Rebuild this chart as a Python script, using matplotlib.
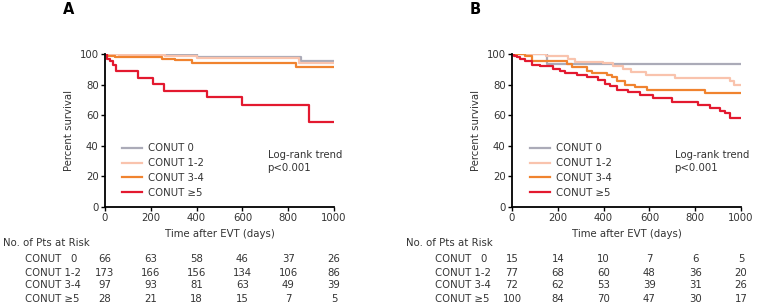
import matplotlib
matplotlib.use("Agg")
import matplotlib.pyplot as plt
from matplotlib.transforms import blended_transform_factory

# groups and colours
groups = ["CONUT 0", "CONUT 1-2", "CONUT 3-4", "CONUT \u22655"]
row_labels = ["CONUT   0", "CONUT 1-2", "CONUT 3-4", "CONUT \u22655"]
colors = ["#ababb8", "#f9c3ad", "#f0832f", "#e3192f"]
risk_times = [0, 200, 400, 600, 800, 1000]

# panel A: Kaplan-Meier steps (time in days, percent survival)
a_t0 = [0, 403, 855]
a_s0 = [100, 97.8, 95.5]
a_t1 = [0, 60, 260, 400, 846]
a_s1 = [100, 99.4, 98.8, 97.2, 94.0]
a_t2 = [0, 10, 44, 250, 307, 380, 833]
a_s2 = [100, 99, 98, 97, 96.2, 94.1, 91.5]
a_t3 = [0, 10, 22, 35, 48, 145, 211, 258, 445, 598, 890]
a_s3 = [100, 97, 95.6, 93, 89, 84.3, 80.3, 76, 71.6, 66.6, 55.3]

# panel B
b_t0 = [0, 155]
b_s0 = [100, 93.3]
b_t1 = [0, 150, 245, 275, 397, 440, 484, 520, 586, 712, 950, 970]
b_s1 = [100, 98.6, 96.5, 95, 94, 92, 90, 88.4, 86.2, 84, 82.3, 80]
b_t2 = [0, 57, 86, 239, 261, 326, 348, 413, 435, 457, 493, 537, 588, 843]
b_s2 = [100, 98.7, 95.2, 93.4, 91.3, 89, 87.8, 86.5, 85, 82.5, 79.7, 78.2, 76.4, 74.2]
b_t3 = [0, 8, 20, 35, 57, 86, 122, 180, 210, 231, 283, 326, 377, 406, 428,
        457, 508, 559, 616, 697, 814, 865, 908, 930, 950]
b_s3 = [100, 99, 98, 96.9, 95.2, 93, 92, 90.4, 89, 87.5, 86.5, 84.7, 82.8, 80.4, 78.8,
        76.6, 75.3, 73.2, 71, 68.8, 66.6, 64.4, 62.9, 61.2, 58.2]

# numbers at risk
a_risk = [[66, 63, 58, 46, 37, 26],
          [173, 166, 156, 134, 106, 86],
          [97, 93, 81, 63, 49, 39],
          [28, 21, 18, 15, 7, 5]]
b_risk = [[15, 14, 10, 7, 6, 5],
          [77, 68, 60, 48, 36, 20],
          [72, 62, 53, 39, 31, 26],
          [100, 84, 70, 47, 30, 17]]

plt.rcParams['font.family'] = ['DejaVu Sans']
FS = 7.3
TXT = '#333333'

W, H = 766, 307
fig = plt.figure(figsize=(W / 100, H / 100), dpi=100)


def panel(left_px, letter, curves, risk, legend_x_px, table_x_px, row_x_px):
    ax = fig.add_axes([left_px / W, 1 - 207 / H, 229 / W, 153 / H])
    lines = []
    for (t, s), c, g in zip(curves, colors, groups):
        t = list(t) + [1000]
        s = list(s) + [s[-1]]
        ln, = ax.step(t, s, where='post', color=c, lw=1.6, label=g)
        lines.append(ln)
    ax.set_xlim(0, 1000)
    ax.set_ylim(0, 100)
    ax.set_xticks(risk_times)
    ax.set_yticks([0, 20, 40, 60, 80, 100])
    for sp in ['top', 'right']:
        ax.spines[sp].set_visible(False)
    for sp in ['left', 'bottom']:
        ax.spines[sp].set_linewidth(1.3)
    ax.tick_params(direction='out', length=3, width=1, labelsize=FS, pad=1.5,
                   labelcolor=TXT)
    ax.set_ylabel("Percent survival", fontsize=FS, labelpad=4, color=TXT)
    ax.set_xlabel("Time after EVT (days)", fontsize=FS, labelpad=4, color=TXT)
    ax.legend(handles=lines, loc='lower left',
              bbox_to_anchor=((legend_x_px - left_px) / 229, 0.06),
              frameon=False, fontsize=FS, handlelength=2.0, handletextpad=0.6,
              labelspacing=0.48, borderpad=0, borderaxespad=0, labelcolor=TXT)
    ax.text(0.71, 0.295, "Log-rank trend\np<0.001", transform=ax.transAxes,
            fontsize=FS, va='center', ha='left', linespacing=1.35, color=TXT)

    fig.text((left_px - 42) / W, 1 - 10 / H, letter, fontsize=10.5,
             fontweight='bold', ha='left', va='center')

    # numbers-at-risk table under the axis, columns aligned with x ticks
    fig.text(table_x_px / W, 1 - 243 / H, "No. of Pts at Risk", fontsize=FS,
             ha='left', va='center', color=TXT)
    tr = blended_transform_factory(ax.transData, fig.transFigure)
    row_y = [259.3, 272.7, 285.3, 298.7]
    for lab, vals, y in zip(row_labels, risk, row_y):
        fig.text(row_x_px / W, 1 - y / H, lab, fontsize=FS,
                 ha='left', va='center', color=TXT)
        for t, v in zip(risk_times, vals):
            ax.text(t, 1 - y / H, str(v), transform=tr, fontsize=FS,
                    ha='center', va='center', color=TXT)
    return ax


panel(105, "A", [(a_t0, a_s0), (a_t1, a_s1), (a_t2, a_s2), (a_t3, a_s3)],
      a_risk, 122, 3, 25)
panel(512, "B", [(b_t0, b_s0), (b_t1, b_s1), (b_t2, b_s2), (b_t3, b_s3)],
      b_risk, 530, 406, 435)

fig.savefig("out.png", dpi=100)
